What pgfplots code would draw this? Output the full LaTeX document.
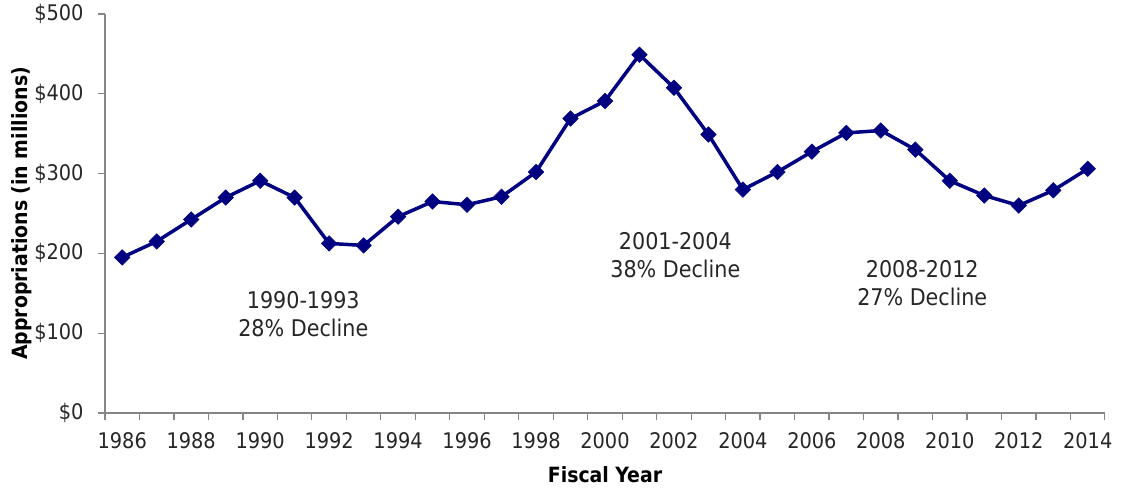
\documentclass[border=0pt]{standalone}
\usepackage{pgfplots}
\pgfplotsset{compat=1.18}
\usepackage{fontspec}
\setmainfont{DejaVu Sans Condensed}
\definecolor{navyline}{RGB}{0,0,128}
\definecolor{axisgray}{RGB}{134,134,134}
\begin{document}
\begin{tikzpicture}
\begin{axis}[
  scale only axis,
  width=1000pt, height=399pt,
  xmin=1985.5, xmax=2014.5,
  ymin=0, ymax=500,
  axis x line*=bottom, axis y line*=left,
  axis line style={axisgray, line width=1.2pt},
  tick align=outside,
  xtick={1986,1988,...,2014},
  minor xtick={1985.5,1986.5,...,2014.5},
  major x tick style={draw=none},
  minor x tick style={axisgray, line width=1.2pt},
  minor tick length=7pt,
  ytick={0,100,...,500},
  major y tick style={axisgray, line width=1.2pt},
  major tick length=7pt,
  x tick label style={/pgf/number format/1000 sep={}},
  /pgf/number format/assume math mode=true,
  yticklabel={\$\pgfmathprintnumber{\tick}},
  ticklabel style={font=\fontsize{21.5}{25}\selectfont, text=black!85},
  xticklabel style={yshift=-9pt},
  yticklabel style={xshift=-11pt},
  xlabel={\textbf{Fiscal Year}},
  ylabel={\textbf{Appropriations (in millions)}},
  label style={font=\fontsize{21}{25}\selectfont},
  xlabel style={yshift=-11pt},
  ylabel style={yshift=-4pt},
  clip=false,
]
\addplot[navyline, line width=3.5pt, mark=square*, mark size=5.5pt,
  mark options={rotate=45, solid, line width=0.5pt, fill=navyline}]
  coordinates {
  (1986,195) (1987,215) (1988,242.5) (1989,270) (1990,291)
  (1991,270) (1992,212.5) (1993,210) (1994,246) (1995,265)
  (1996,261) (1997,271) (1998,302) (1999,369) (2000,391)
  (2001,449) (2002,407.5) (2003,349) (2004,280) (2005,302)
  (2006,327.5) (2007,351) (2008,354) (2009,330) (2010,291)
  (2011,272.5) (2012,260) (2013,279) (2014,306)
  };
\node[align=center, font=\fontsize{23}{28}\selectfont, text=black!85] at (axis cs:1991.25,124) {1990-1993\\28\% Decline};
\node[align=center, font=\fontsize{23}{28}\selectfont, text=black!85] at (axis cs:2002.04,198) {2001-2004\\38\% Decline};
\node[align=center, font=\fontsize{23}{28}\selectfont, text=black!85] at (axis cs:2009.2,163) {2008-2012\\27\% Decline};
\end{axis}
\pgfresetboundingbox
\path (-105pt,-74pt) rectangle (1016pt,413pt);
\end{tikzpicture}
\end{document}
